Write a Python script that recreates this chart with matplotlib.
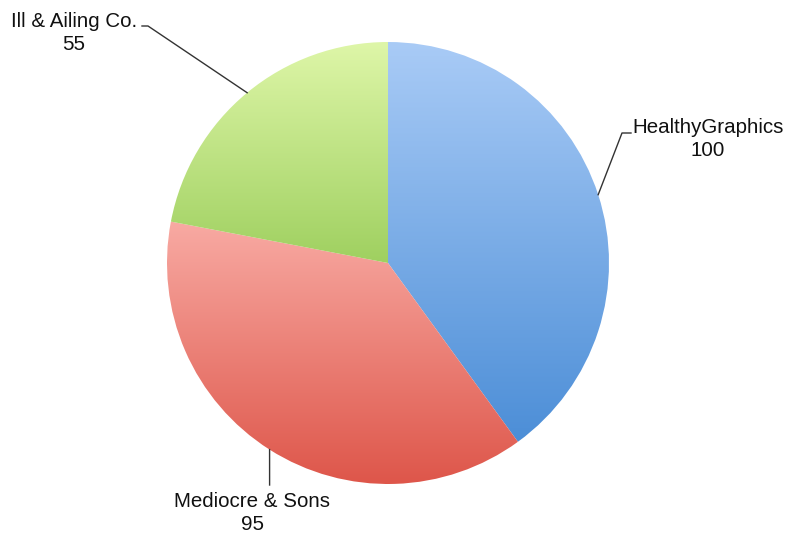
import numpy as np
import matplotlib
matplotlib.use('Agg')
import matplotlib.pyplot as plt
from matplotlib.colors import LinearSegmentedColormap

plt.rcParams['font.family'] = ['Liberation Sans', 'DejaVu Sans']

# market share of the three companies
companies = ['HealthyGraphics', 'Mediocre & Sons', 'Ill & Ailing Co.']
sales = [100, 95, 55]
top_colors = ['#A9CBF6', '#F8AAA3', '#DEF6A8']
bottom_colors = ['#4C8ED7', '#DE564A', '#9FD060']

W, H = 787, 533
cx, cy, r = 388, H - 263, 221

# leader line bends and label anchors (pixel coords, y from top)
bends = [[(622, 133), (631, 133)], [(269.6, 485)], [(148, 26), (142, 26)]]
label_pos = [(708, 133), (252, 507), (74, 27)]

fig = plt.figure(figsize=(7.87, 5.33), dpi=100)
ax = fig.add_axes([0, 0, 1, 1])
wedges, _ = ax.pie(sales, center=(cx, cy), radius=r, startangle=90,
                   counterclock=False, wedgeprops=dict(linewidth=0))

# vertical gradient inside each slice
grad = np.linspace(0, 1, 256).reshape(-1, 1)
for w, c0, c1 in zip(wedges, top_colors, bottom_colors):
    bb = w.get_path().get_extents(w.get_patch_transform())
    cmap = LinearSegmentedColormap.from_list('g', [c1, c0])
    im = ax.imshow(grad, cmap=cmap, origin='lower',
                   extent=[bb.x0, bb.x1, bb.y0, bb.y1],
                   aspect='auto', interpolation='bilinear', zorder=1)
    im.set_clip_path(w)
    w.set_facecolor('none')

# labels with leader lines from the middle of each slice
total = sum(sales)
cum = 0
for name, v, pts, (lx, ly) in zip(companies, sales, bends, label_pos):
    ang = np.deg2rad(90 - 360 * (cum + v / 2) / total)
    cum += v
    xs = [cx + r * np.cos(ang)] + [p[0] for p in pts]
    ys = [cy + r * np.sin(ang)] + [H - p[1] for p in pts]
    ax.plot(xs, ys, color='#333333', lw=1, zorder=3)
    ax.text(lx, H - ly, name, ha='center', va='baseline', fontsize=14.8, color='#111111')
    ax.text(lx, H - ly - 23.5, str(v), ha='center', va='baseline', fontsize=14.8, color='#111111')

ax.set_xlim(0, W)
ax.set_ylim(0, H)
ax.set_aspect('equal')
ax.axis('off')

fig.savefig('out.png', dpi=100)
